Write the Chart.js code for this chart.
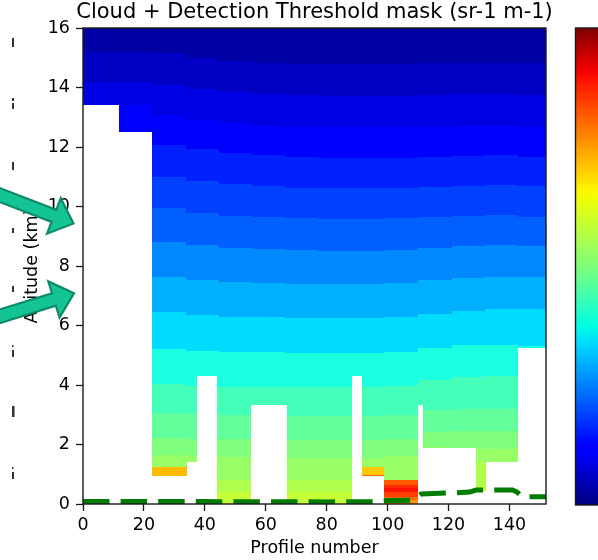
<!DOCTYPE html>
<html>
<head>
<meta charset="utf-8">
<script src="https://cdn.jsdelivr.net/npm/chart.js@4"></script>
<style>
html,body{margin:0;padding:0;background:#fff;}
canvas{display:block;}
</style>
</head>
<body>
<canvas id="c" width="598" height="560" style="width:598px;height:560px"></canvas>
<script>
// ---------------- data ----------------
const TITLE = 'Cloud + Detection Threshold mask (sr-1 m-1)';
const X_LABEL = 'Profile number';
const Y_LABEL = 'Altitude (km)';
const X_MIN = 0, X_MAX = 152, X_STEP = 20;
const Y_MIN = 0, Y_MAX = 16, Y_STEP = 2;

// profile-block edges of the image columns
const PROFILE_EDGES = [0, 11.8, 22.6, 33.7, 44.6, 55.5, 66.4, 77.3, 88.3, 99.2, 110.1, 121, 131.9, 142.8, 152];

// colour of each altitude band (top -> bottom)
const BAND_COLORS = ['#0000a4','#0000c4','#0000e4','#0000ff','#0020ff','#0040ff','#0060ff','#0088ff',
                     '#00b0ff','#00dcff','#1cffe0','#44ffba','#62ff9c','#80ff7e','#98ff66','#b0ff4e','#c4ff3a'];

// altitude (km) of the lower edge of each band, per profile block
const BAND_BOUNDS = [
  [15.2,15.2,15.15,15.0,14.9,14.84,14.8,14.78,14.78,14.8,14.82,14.83,14.83,14.81],
  [14.2,14.2,14.1,13.95,13.85,13.78,13.74,13.72,13.72,13.73,13.75,13.77,13.78,13.75],
  [13.41,13.41,13.07,12.9,12.8,12.72,12.68,12.66,12.66,12.66,12.68,12.7,12.72,12.68],
  [12.4,12.35,12.07,11.92,11.8,11.72,11.66,11.63,11.62,11.64,11.68,11.7,11.72,11.68],
  [11.3,11.25,11.0,10.85,10.76,10.68,10.63,10.61,10.61,10.63,10.67,10.7,10.72,10.69],
  [10.2,10.15,9.94,9.77,9.68,9.64,9.6,9.58,9.58,9.6,9.65,9.68,9.71,9.66],
  [9.05,9.0,8.82,8.7,8.62,8.57,8.54,8.52,8.52,8.55,8.62,8.66,8.7,8.68],
  [7.85,7.8,7.64,7.52,7.45,7.42,7.4,7.38,7.38,7.42,7.53,7.6,7.64,7.64],
  [6.65,6.6,6.46,6.36,6.3,6.27,6.25,6.24,6.24,6.28,6.4,6.48,6.54,6.54],
  [5.35,5.3,5.21,5.15,5.12,5.1,5.09,5.09,5.08,5.1,5.23,5.34,5.36,5.3],
  [4.1,4.08,4.03,3.98,3.94,3.93,3.92,3.92,3.92,3.95,4.17,4.28,4.3,4.25],
  [3.1,3.08,3.05,3.01,2.99,2.97,2.96,2.96,2.96,2.99,3.16,3.2,3.2,3.15],
  [2.25,2.23,2.21,2.19,2.17,2.16,2.15,2.15,2.15,2.2,2.43,2.45,2.45,2.4],
  [1.68,1.66,1.65,1.6,1.57,1.56,1.55,1.55,1.55,1.6,1.9,1.87,1.85,1.8],
  [0.85,0.85,0.83,0.82,0.81,0.8,0.79,0.79,0.79,0.8,1.45,1.42,1.3,1.2],
  [0.4,0.4,0.4,0.4,0.4,0.4,0.4,0.4,0.4,0.4,0.6,0.6,0.5,0.5]
];

// cloud mask (white) : profile range and top altitude (from ground)
const MASK_X0  = [0,    11.8, 22.6, 34.2, 37.3, 55.3, 88.3, 91.7, 110.1, 111.7, 128.9, 132.2, 142.9];
const MASK_X1  = [11.8, 22.6, 34.2, 37.3, 43.9, 66.9, 91.7, 98.9, 111.7, 128.9, 132.2, 142.9, 152];
const MASK_TOP = [13.41,12.5, 0.95, 1.41, 4.31, 3.32, 4.31, 0.93, 3.32, 1.87, 0.45, 1.41, 5.25];

// strong-signal cells (orange / red)
const HOT_X0 = [22.6, 91.7, 91.7, 98.9, 98.9, 98.9, 98.9, 98.9, 98.9];
const HOT_X1 = [34.2, 98.9, 98.9, 110.1, 110.1, 110.1, 110.1, 110.1, 110.1];
const HOT_Y0 = [0.95, 0.97, 0.93, 0.64, 0.53, 0.39, 0.245, 0.134, 0];
const HOT_Y1 = [1.23, 1.23, 0.97, 0.81, 0.64, 0.53, 0.39, 0.245, 0.134];
const HOT_COLORS = ['#ffbc00','#ffc800','#ff6a00','#ff5a00','#ff2c00','#ff1200','#ff4000','#ff6c00','#ff9800'];

// green dashed line (surface / detection level)
const LINE_X = [0, 40, 80, 96, 100, 108, 109.5, 111, 120, 127, 129, 141, 142.5, 144, 152];
const LINE_Y = [0.08, 0.08, 0.07, 0.08, 0.12, 0.13, 0.22, 0.34, 0.37, 0.4, 0.47, 0.47, 0.4, 0.25, 0.24];

// ---------------- plugins ----------------
const FONT = "'DejaVu Sans', 'Liberation Sans', sans-serif";

const heatPlugin = {
  id: 'heat',
  beforeDatasetsDraw(chart) {
    const {ctx, chartArea: a, scales: {x, y}} = chart;
    ctx.save();
    ctx.beginPath();
    ctx.rect(a.left, a.top, a.right - a.left, a.bottom - a.top);
    ctx.clip();
    const rect = (x0, x1, y0, y1, c) => {
      const px0 = Math.round(x.getPixelForValue(x0));
      const px1 = Math.round(x.getPixelForValue(x1));
      const py0 = Math.round(y.getPixelForValue(y0));
      const py1 = Math.round(y.getPixelForValue(y1));
      ctx.fillStyle = c;
      ctx.fillRect(Math.min(px0, px1), Math.min(py0, py1), Math.abs(px1 - px0), Math.abs(py1 - py0));
    };
    const nb = BAND_COLORS.length;
    for (let j = 0; j < PROFILE_EDGES.length - 1; j++) {
      for (let b = 0; b < nb; b++) {
        const top = b === 0 ? Y_MAX : BAND_BOUNDS[b - 1][j];
        const bot = b === nb - 1 ? Y_MIN : BAND_BOUNDS[b][j];
        rect(PROFILE_EDGES[j], PROFILE_EDGES[j + 1], bot, top, BAND_COLORS[b]);
      }
    }
    for (let i = 0; i < MASK_X0.length; i++) {
      rect(MASK_X0[i], MASK_X1[i], Y_MIN, MASK_TOP[i], '#ffffff');
    }
    for (let i = 0; i < HOT_X0.length; i++) {
      rect(HOT_X0[i], HOT_X1[i], HOT_Y0[i], HOT_Y1[i], HOT_COLORS[i]);
    }
    ctx.restore();
  },
  afterDatasetsDraw(chart) {
    const {ctx, chartArea: a} = chart;
    ctx.save();
    ctx.strokeStyle = '#1a1a1a';
    ctx.lineWidth = 1.4;
    ctx.strokeRect(a.left, a.top, a.right - a.left, a.bottom - a.top);
    ctx.restore();
  }
};

const decoPlugin = {
  id: 'deco',
  afterDraw(chart) {
    const {ctx, chartArea: a} = chart;
    ctx.save();
    // title
    ctx.fillStyle = '#000';
    ctx.font = '21px ' + FONT;
    ctx.textAlign = 'center';
    ctx.textBaseline = 'alphabetic';
    ctx.fillText(TITLE, (a.left + a.right) / 2, 17.5);

    // colour bar (jet)
    const cbx = 575.5, cbTop = a.top, cbBot = a.bottom + 1;
    const g = ctx.createLinearGradient(0, cbBot, 0, cbTop);
    [[0,'#000080'],[0.11,'#0000ff'],[0.125,'#0000ff'],[0.34,'#00dbff'],[0.375,'#00ffe2'],
     [0.5,'#7dff7a'],[0.64,'#eeff08'],[0.66,'#fff500'],[0.89,'#ff1300'],[0.91,'#f50000'],[1,'#800000']]
      .forEach(s => g.addColorStop(s[0], s[1]));
    ctx.fillStyle = g;
    ctx.fillRect(cbx, cbTop, 80, cbBot - cbTop);
    ctx.strokeStyle = '#1a1a1a';
    ctx.lineWidth = 1.4;
    ctx.strokeRect(cbx, cbTop, 80, cbBot - cbTop);

    // stray marks from neighbouring panel (left edge)
    ctx.fillStyle = '#333';
    [[12,38,2,9],[12,98,2,3],[12,103,2,6],[12,162,2,8],[12,228,2,5],[12,286,2,6],
     [12,345,1.5,2],[12,350,2,7],[12,406,2.5,11],[12,467,1.5,2],[12,472,2,7]]
      .forEach(r => ctx.fillRect(r[0], r[1], r[2], r[3]));

    // arrows (annotation overlay)
    const arrows = [[-12, 190.5, 73.5, 223.5], [-12, 320, 74, 293.3]];
    arrows.forEach(([x0, y0, x1, y1]) => {
      const dx = x1 - x0, dy = y1 - y0, L = Math.hypot(dx, dy);
      const ux = dx / L, uy = dy / L, nx = -uy, ny = ux;
      const sw = 6.5, hw = 19, hl = 21;
      const bx = x1 - ux * hl, by = y1 - uy * hl;
      ctx.beginPath();
      ctx.moveTo(x0 + nx * sw, y0 + ny * sw);
      ctx.lineTo(bx + nx * sw, by + ny * sw);
      ctx.lineTo(bx + nx * hw, by + ny * hw);
      ctx.lineTo(x1, y1);
      ctx.lineTo(bx - nx * hw, by - ny * hw);
      ctx.lineTo(bx - nx * sw, by - ny * sw);
      ctx.lineTo(x0 - nx * sw, y0 - ny * sw);
      ctx.closePath();
      ctx.fillStyle = '#14c494';
      ctx.fill();
      ctx.strokeStyle = '#0e8a6a';
      ctx.lineWidth = 2.2;
      ctx.lineJoin = 'miter';
      ctx.stroke();
    });
    ctx.restore();
  }
};

// ---------------- chart ----------------
const lineData = LINE_X.map((v, i) => ({x: v, y: LINE_Y[i]}));

new Chart(document.getElementById('c'), {
  type: 'scatter',
  data: {
    datasets: [{
      type: 'line',
      data: lineData,
      borderColor: '#007d00',
      borderWidth: 5,
      borderDash: [26.5, 11.1],
      borderCapStyle: 'butt',
      pointRadius: 0,
      tension: 0,
      fill: false
    }]
  },
  options: {
    responsive: false,
    animation: false,
    devicePixelRatio: 1,
    layout: {padding: {top: 28, right: 52, bottom: 0, left: 0}},
    plugins: {legend: {display: false}, title: {display: false}, tooltip: {enabled: false}},
    scales: {
      x: {
        type: 'linear', min: X_MIN, max: X_MAX,
        ticks: {stepSize: X_STEP, includeBounds: false, autoSkip: false, maxRotation: 0,
                color: '#000', padding: 4, font: {family: FONT, size: 17.5}},
        grid: {display: true, drawOnChartArea: false, drawTicks: true, tickLength: 7, tickWidth: 1.3, tickColor: '#1a1a1a'},
        border: {display: false},
        title: {display: true, text: X_LABEL, color: '#000', font: {family: FONT, size: 17.5}, padding: {top: 0, bottom: 1.5}},
        afterFit(s) { s.height = 56; s.paddingLeft = 0; s.paddingRight = 0; }
      },
      y: {
        type: 'linear', min: Y_MIN, max: Y_MAX,
        ticks: {stepSize: Y_STEP, includeBounds: false, autoSkip: false,
                color: '#000', padding: 6, font: {family: FONT, size: 17.5}},
        grid: {display: true, drawOnChartArea: false, drawTicks: true, tickLength: 7, tickWidth: 1.3, tickColor: '#1a1a1a'},
        border: {display: false},
        title: {display: true, text: Y_LABEL, color: '#000', font: {family: FONT, size: 17.5}, padding: {top: 22, bottom: 0}},
        afterFit(s) { s.width = 83; s.paddingTop = 0; s.paddingBottom = 0; }
      }
    }
  },
  plugins: [heatPlugin, decoPlugin]
});
</script>
</body>
</html>
